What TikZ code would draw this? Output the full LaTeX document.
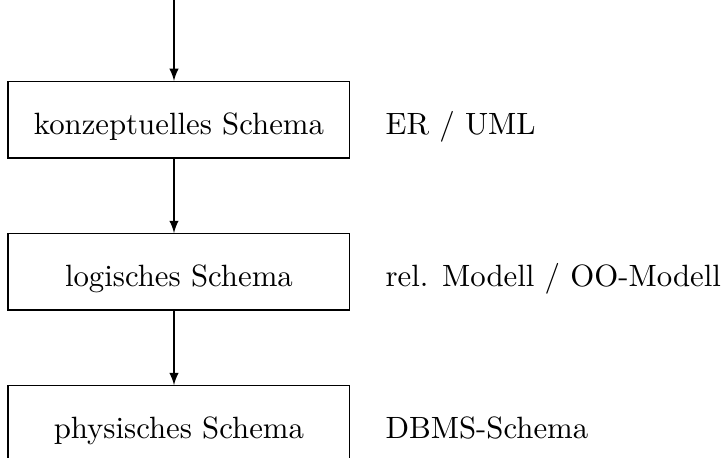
\documentclass[tikz,border=0pt]{standalone}
\usetikzlibrary{arrows,positioning}

\begin{document}
\begin{tikzpicture}[>=latex,
                    schema/.style={draw,minimum width=111pt,minimum height=24.8pt,
                      text height=11.5pt,text depth=1.9pt,anchor=base},
                    modell/.style={inner sep=0pt,anchor=base west}]

                  \useasboundingbox (0,0) rectangle (236.4pt,-148.7pt);
                  \coordinate (start) at (56.5pt,0);

                  \matrix (m) [anchor=north west,inner sep=0pt,row sep=24.2pt,
                    column sep=11.4pt] at (2.2pt,-26.1pt) {

                    % Konzeptuell
                    \node (konz) [schema] {konzeptuelles Schema};
                    & \node (er) [modell] {ER / UML};
                    \\

                    % Logisch
                    \node (log) [schema] {logisches Schema};
                    & \node (rel) [modell] {rel. Modell / OO-Modell};
                    \\

                    % Physisch
                    \node (phys) [schema] {physisches Schema};
                    & \node (dbms) [modell] {DBMS-Schema};
                    \\ };

                        \draw [->] (start) -- (start |- konz.north);
                        \draw [->] (konz.south -| start) -- (log.north -| start);
                        \draw [->] (log.south -| start) -- (phys.north -| start);
                \end{tikzpicture}
\end{document}
